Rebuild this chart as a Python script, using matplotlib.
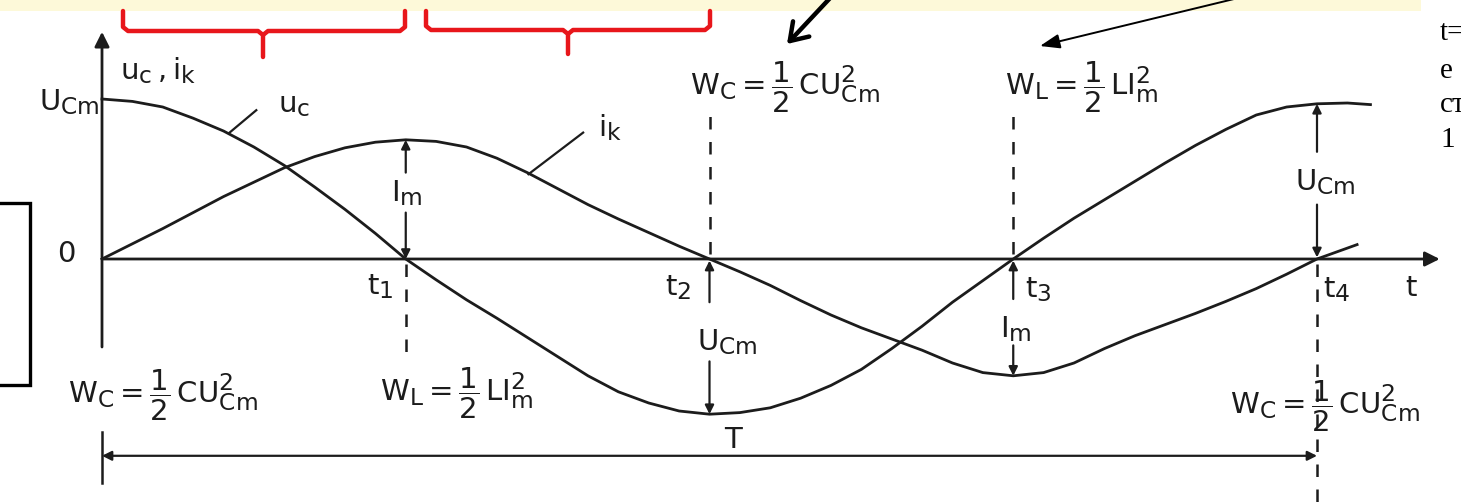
import numpy as np
import matplotlib
matplotlib.use("Agg")
import matplotlib.pyplot as plt
import matplotlib._mathtext as mathtext_core
from matplotlib.patches import Rectangle

plt.rcParams['font.family'] = ['DejaVu Sans']
plt.rcParams['mathtext.fontset'] = 'custom'
plt.rcParams['mathtext.rm'] = 'DejaVu Sans'
plt.rcParams['mathtext.it'] = 'DejaVu Sans'
plt.rcParams['mathtext.default'] = 'rm'
# the book lettering keeps indices almost as large as the main letters
mathtext_core.SHRINK_FACTOR = 0.8

# time in units of the period T, amplitudes relative to U_Cm
uc_t = [0.0, 0.025, 0.05, 0.075, 0.1, 0.125, 0.15, 0.175, 0.2, 0.225, 0.25,
        0.275, 0.3, 0.325, 0.35, 0.375, 0.4, 0.425, 0.45, 0.475, 0.5,
        0.525, 0.55, 0.575, 0.6, 0.625, 0.65, 0.675, 0.7, 0.725, 0.75,
        0.775, 0.8, 0.825, 0.85, 0.875, 0.9, 0.925, 0.95, 0.975, 1.0,
        1.025, 1.044]
uc_v = [1.0, 0.985, 0.95, 0.88, 0.80, 0.70, 0.585, 0.45, 0.31, 0.16, 0.0,
        -0.13, -0.255, -0.37, -0.49, -0.61, -0.73, -0.83, -0.90, -0.95, -0.97,
        -0.96, -0.93, -0.87, -0.79, -0.69, -0.56, -0.42, -0.27, -0.135, 0.0,
        0.13, 0.255, 0.37, 0.485, 0.60, 0.71, 0.81, 0.90, 0.95, 0.97,
        0.975, 0.965]

ik_t = [0.0, 0.025, 0.05, 0.075, 0.1, 0.125, 0.15, 0.175, 0.2, 0.225, 0.25,
        0.275, 0.3, 0.325, 0.35, 0.375, 0.4, 0.425, 0.45, 0.475, 0.5,
        0.525, 0.55, 0.575, 0.6, 0.625, 0.65, 0.675, 0.7, 0.725, 0.75,
        0.775, 0.8, 0.825, 0.85, 0.875, 0.9, 0.925, 0.95, 0.975, 1.0,
        1.033]
ik_v = [0.0, 0.095, 0.19, 0.29, 0.39, 0.48, 0.57, 0.64, 0.695, 0.73, 0.745,
        0.735, 0.70, 0.63, 0.54, 0.44, 0.34, 0.25, 0.165, 0.08, 0.0,
        -0.08, -0.165, -0.26, -0.35, -0.43, -0.50, -0.57, -0.65, -0.71, -0.73,
        -0.71, -0.65, -0.56, -0.48, -0.41, -0.34, -0.265, -0.185, -0.095, 0.0,
        0.09]

t_marks = [0.25, 0.5, 0.75, 1.0]
t_names = ['$t_1$', '$t_2$', '$t_3$', '$t_4$']

wc_text = r'$W_C=\dfrac{1}{2}\,CU_{Cm}^{2}$'
wl_text = r'$W_L=\dfrac{1}{2}\,LI_{m}^{2}$'
side_words = ['t=', 'e', 'ст', '1']

ink = '#1c1c1c'
W, H = 1461, 504
fig = plt.figure(figsize=(W / 100, H / 100), dpi=100)
fig.patch.set_facecolor('white')

# diagram axes: x in periods, y in units of U_Cm
ax = fig.add_axes([0, 0, 1, 1])
x0, tp = 102, 1215
y0, ap = 259, 160
ax.set_xlim(-x0 / tp, (W - x0) / tp)
ax.set_ylim(-(H - y0) / ap, y0 / ap)
ax.axis('off')

fs = 21


def arrow(t, v_from, v_to, lw=1.6, ms=13):
    ax.annotate('', xy=(t, v_to), xytext=(t, v_from),
                arrowprops=dict(arrowstyle='-|>', color=ink, lw=lw,
                                mutation_scale=ms, shrinkA=0, shrinkB=0))


def dashed(t, v_from, v_to):
    ax.plot([t, t], [v_from, v_to], color=ink, lw=1.8, ls=(0, (5, 5)))


def label(t, v, s, ha='left'):
    ax.text(t, v, s, fontsize=fs, color=ink, ha=ha, va='center')


# coordinate axes
ax.annotate('', xy=(0, 1.42), xytext=(0, -0.55),
            arrowprops=dict(arrowstyle='-|>', color=ink, lw=2.0,
                            mutation_scale=22, shrinkA=0, shrinkB=0))
ax.annotate('', xy=(1.101, 0), xytext=(0, 0),
            arrowprops=dict(arrowstyle='-|>', color=ink, lw=2.0,
                            mutation_scale=22, shrinkA=0, shrinkB=0))

# curves
ax.plot(uc_t, uc_v, color=ink, lw=2.0, solid_joinstyle='round')
ax.plot(ik_t, ik_v, color=ink, lw=2.0, solid_joinstyle='round')

# curve names with leader lines
ax.plot([0.105, 0.127], [0.79, 0.93], color=ink, lw=1.6)
label(0.145, 0.96, '$u_c$')
ax.plot([0.351, 0.396], [0.53, 0.79], color=ink, lw=1.6)
label(0.408, 0.82, '$i_k$')

label(0.015, 1.18, '$u_c\\,,i_k$')
label(-0.002, 0.98, '$U_{Cm}$', ha='right')
label(-0.022, 0.03, '0', ha='right')
label(1.078, -0.18, '$t$', ha='center')

uc = lambda t: np.interp(t, uc_t, uc_v)
ik = lambda t: np.interp(t, ik_t, ik_v)

t1, t2, t3, t4 = t_marks

# t1: current maximum
arrow(t1, 0.54, ik(t1))
label(t1 - 0.012, 0.41, '$I_m$')
arrow(t1, 0.29, 0.0)
dashed(t1, -0.03, -0.64)
label(t1 - 0.01, -0.17, t_names[0], ha='right')
label(0.229, -0.84, wl_text)

# t2: voltage minimum
dashed(t2, 0.03, 0.93)
label(0.484, 1.07, wc_text)
arrow(t2, -0.27, -0.01)
label(t2 - 0.015, -0.18, t_names[1], ha='right')
label(0.49, -0.52, '$U_{Cm}$')
arrow(t2, -0.64, uc(t2))

# t3: current minimum
dashed(t3, 0.03, 0.93)
label(0.743, 1.07, wl_text)
arrow(t3, -0.25, -0.01)
label(t3 + 0.01, -0.19, t_names[2])
label(t3 - 0.011, -0.44, '$I_m$')
arrow(t3, -0.54, ik(t3))

# t4: voltage maximum again
arrow(t4, 0.67, uc(t4))
label(0.982, 0.48, '$U_{Cm}$')
arrow(t4, 0.34, 0.01)
dashed(t4, -0.03, -1.6)
label(t4 + 0.005, -0.19, t_names[3])
label(0.928, -0.92, wc_text)

# starting energy and period
label(-0.028, -0.85, wc_text)
ax.plot([0, 0], [-1.08, -1.40], color=ink, lw=1.8)
ax.annotate('', xy=(0, -1.23), xytext=(t4, -1.23),
            arrowprops=dict(arrowstyle='<|-|>', color=ink, lw=1.6,
                            mutation_scale=14, shrinkA=0, shrinkB=0))
label(0.52, -1.13, '$T$', ha='center')

# slide overlay in pixel units
deco = fig.add_axes([0, 0, 1, 1], facecolor='none')
deco.set_xlim(0, W)
deco.set_ylim(H, 0)
deco.axis('off')

deco.add_patch(Rectangle((0, 0), 1421, 11, color='#fdf9d9', lw=0))

red = '#e8161b'
for left, right, mid, tip, base in [(123, 405, 263, 57, 31), (426, 710, 568, 54, 30)]:
    deco.plot([left, left, left + 5, mid - 5, mid, mid], [11, base - 4, base, base, base + 4, tip],
              color=red, lw=3.2, solid_joinstyle='round', solid_capstyle='round')
    deco.plot([mid, mid + 5, right - 5, right, right], [base + 4, base, base, base - 4, 11],
              color=red, lw=3.2, solid_joinstyle='round', solid_capstyle='round')

deco.annotate('', xy=(787, 44), xytext=(832, -4),
              arrowprops=dict(arrowstyle='->,head_length=0.6,head_width=0.4', color='black',
                              lw=3.2, mutation_scale=20, shrinkA=0, shrinkB=0))
deco.annotate('', xy=(1040, 46), xytext=(1234, -1),
              arrowprops=dict(arrowstyle='-|>,head_length=0.6,head_width=0.22', color='black',
                              lw=1.4, mutation_scale=20, shrinkA=0, shrinkB=0))

deco.add_patch(Rectangle((-10, 203), 40, 182, fill=False, ec='black', lw=2.4))

for word, yy in zip(side_words, [33, 71, 105, 140]):
    deco.text(1440, yy, word, fontsize=21, family='Liberation Serif', color='black',
              ha='left', va='center')

fig.savefig('out.png', dpi=100)
